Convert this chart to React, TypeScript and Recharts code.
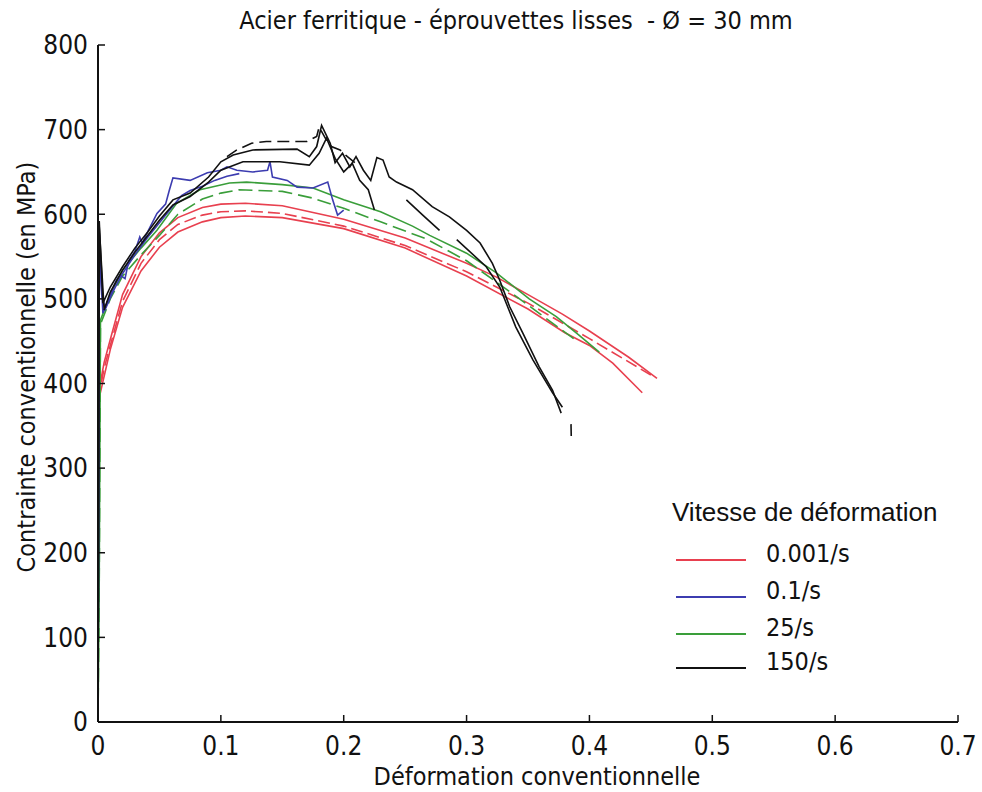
import { LineChart, Line, XAxis, YAxis, Label } from "recharts";

type Pt = [number, number | null];

// strain (-) vs engineering stress (MPa)
const xTicks = [0, 0.1, 0.2, 0.3, 0.4, 0.5, 0.6, 0.7];
const yTicks = [0, 100, 200, 300, 400, 500, 600, 700, 800];

const red1: Pt[] = [
  [0, 0], [0.0005, 390], [0.005, 425], [0.01, 452], [0.02, 505], [0.035, 550], [0.05, 578],
  [0.065, 596], [0.085, 608], [0.1, 612], [0.12, 613], [0.15, 610], [0.2, 594], [0.25, 572],
  [0.3, 542], [0.324, 526], [0.35, 505], [0.378, 482], [0.4, 462], [0.432, 431], [0.455, 406],
];
const red2: Pt[] = [
  [0, 0], [0.0005, 385], [0.005, 418], [0.01, 445], [0.02, 497], [0.035, 542], [0.05, 570],
  [0.065, 588], [0.085, 599], [0.1, 603], [0.12, 604], [0.15, 601], [0.2, 586], [0.25, 563],
  [0.3, 532], [0.35, 495], [0.4, 453], [0.45, 410],
];
const red3: Pt[] = [
  [0, 0], [0.0005, 380], [0.01, 440], [0.02, 490], [0.035, 533], [0.05, 561], [0.065, 579],
  [0.085, 591], [0.1, 596], [0.12, 598], [0.15, 596], [0.2, 583], [0.25, 560], [0.3, 527],
  [0.35, 488], [0.38, 460], [0.4, 445], [0.419, 424], [0.443, 389],
];

const blue1: Pt[] = [
  [0, 0], [0.001, 578], [0.002, 540], [0.004, 483], [0.008, 498], [0.012, 512], [0.015, 522],
  [0.018, 528], [0.022, 524], [0.025, 545], [0.03, 556], [0.034, 573], [0.036, 566], [0.04, 578],
  [0.048, 601], [0.055, 612], [0.058, 628], [0.061, 643], [0.075, 640], [0.089, 649], [0.1, 652],
  [0.105, 656], [0.113, 652], [0.126, 650], [0.138, 652], [0.14, 662], [0.142, 644], [0.154, 640],
  [0.162, 632], [0.175, 631], [0.187, 638], [0.191, 617], [0.195, 599], [0.2, 605],
];
const blue2: Pt[] = [
  [0, 0], [0.001, 560], [0.003, 505], [0.006, 488], [0.012, 508], [0.02, 530], [0.03, 552],
  [0.04, 572], [0.05, 590], [0.06, 608], [0.068, 622], [0.075, 628], [0.085, 633], [0.095, 640],
  [0.105, 645], [0.115, 648],
];

const green1: Pt[] = [
  [0, 0], [0.001, 170], [0.002, 475], [0.01, 505], [0.02, 534], [0.035, 560], [0.048, 581],
  [0.064, 613], [0.083, 629], [0.107, 637], [0.121, 638], [0.15, 635], [0.175, 631], [0.2, 617],
  [0.23, 603], [0.256, 586], [0.27, 575], [0.3, 554], [0.324, 531], [0.351, 500], [0.373, 479],
  [0.39, 459], [0.408, 437],
];
const green2: Pt[] = [
  [0, 0], [0.001, 165], [0.002, 470], [0.01, 500], [0.02, 527], [0.035, 552], [0.05, 575],
  [0.065, 600], [0.085, 618], [0.1, 625], [0.115, 629], [0.15, 627], [0.175, 619], [0.2, 607],
  [0.23, 591], [0.267, 571], [0.3, 545], [0.33, 514], [0.36, 482], [0.389, 451],
];

const black1: Pt[] = [
  [0, 0], [0.001, 592], [0.004, 495], [0.01, 514], [0.02, 538], [0.03, 560], [0.04, 578],
  [0.05, 598], [0.061, 617], [0.075, 625], [0.09, 644], [0.1, 662], [0.11, 670], [0.126, 676],
  [0.162, 677], [0.172, 668], [0.178, 680], [0.182, 705], [0.189, 684], [0.193, 661], [0.199, 672],
  [0.205, 656], [0.21, 668], [0.216, 652], [0.222, 640], [0.227, 667], [0.232, 664], [0.237, 644],
  [0.243, 638], [0.256, 629], [0.272, 609], [0.286, 597], [0.3, 581], [0.311, 566], [0.321, 542],
  [0.327, 522], [0.335, 491], [0.346, 459], [0.359, 420], [0.37, 392], [0.377, 365],
];
const black2: Pt[] = [
  [0, 0], [0.001, 585], [0.005, 487], [0.01, 508], [0.02, 534], [0.03, 555], [0.04, 574],
  [0.05, 593], [0.061, 611], [0.075, 621], [0.09, 638], [0.1, 652], [0.118, 662], [0.148, 662],
  [0.172, 658], [0.18, 672], [0.186, 690], [0.193, 666], [0.2, 650], [0.207, 660], [0.213, 640],
  [0.22, 629], [0.225, 605], [0.226, null], [0.251, 617], [0.265, 598], [0.278, 581], [0.285, null],
  [0.292, 570], [0.316, 538], [0.327, 514], [0.34, 467], [0.354, 428], [0.37, 389], [0.378, 372],
  [0.38, null], [0.385, 352], [0.3852, 338],
];
const black3: Pt[] = [
  [0.105, 668], [0.113, 676], [0.125, 684], [0.137, 686], [0.17, 686], [0.178, 692], [0.18, 703],
  [0.185, 690], [0.19, 680], [0.197, 676], [0.203, 668], [0.21, 660],
];

const legendItems = [
  { label: "0.001/s", color: "#e8404f" },
  { label: "0.1/s", color: "#3c3cb0" },
  { label: "25/s", color: "#3a9e3a" },
  { label: "150/s", color: "#111111" },
];

const series = [
  { key: "r1", pts: red1, color: legendItems[0].color, dash: undefined },
  { key: "r2", pts: red2, color: legendItems[0].color, dash: "12 5" },
  { key: "r3", pts: red3, color: legendItems[0].color, dash: undefined },
  { key: "g1", pts: green1, color: legendItems[2].color, dash: undefined },
  { key: "g2", pts: green2, color: legendItems[2].color, dash: "14 6" },
  { key: "b1", pts: blue1, color: legendItems[1].color, dash: undefined },
  { key: "b2", pts: blue2, color: legendItems[1].color, dash: undefined },
  { key: "k1", pts: black1, color: legendItems[3].color, dash: undefined },
  { key: "k2", pts: black2, color: legendItems[3].color, dash: undefined },
  { key: "k3", pts: black3, color: legendItems[3].color, dash: "12 6" },
];

const NARROW = "'Liberation Sans Narrow', 'DejaVu Sans Condensed', Arial, sans-serif";
const SANS = "'Liberation Sans', Arial, sans-serif";
const INK = "#111";

const toRows = (pts: Pt[]) => pts.map(([x, y]) => ({ x, y }));

const XTick = ({ x, y, payload }: any) => (
  <g>
    <line x1={x} y1={y} x2={x} y2={y - 7} stroke={INK} strokeWidth={1.5} />
    <text x={x} y={y + 33} textAnchor="middle" fontSize={26} fill={INK} fontFamily={NARROW}>
      {String(payload.value)}
    </text>
  </g>
);

const YTick = ({ x, y, payload }: any) => (
  <g>
    <line x1={x} y1={y} x2={x + 7} y2={y} stroke={INK} strokeWidth={1.5} />
    <text x={x - 10} y={y} dy="0.36em" textAnchor="end" fontSize={26} fill={INK} fontFamily={NARROW}>
      {String(payload.value)}
    </text>
  </g>
);

function LegendBox() {
  return (
    <svg width={310} height={200} style={{ position: "absolute", left: 660, top: 490 }}>
      <text x={12} y={22} dy="0.36em" fontSize={26} fill={INK} fontFamily={SANS}>
        Vitesse de déformation
      </text>
      {legendItems.map((item, i) => {
        const cy = [70, 107, 144, 178][i];
        return (
          <g key={item.label}>
            <line x1={16} x2={86} y1={cy} y2={cy} stroke={item.color} strokeWidth={2} />
            <text x={106} y={cy - 7} dy="0.36em" fontSize={25} fill={INK} fontFamily={NARROW}>
              {item.label}
            </text>
          </g>
        );
      })}
    </svg>
  );
}

export default function App() {
  return (
    <div style={{ position: "absolute", left: 0, top: 0, width: 982, height: 792, background: "#fff" }}>
      <div
        style={{
          position: "absolute",
          left: 0,
          width: 1032,
          top: 6,
          textAlign: "center",
          fontFamily: NARROW,
          fontSize: 25,
          color: INK,
          whiteSpace: "pre",
        }}
      >
        {"Acier ferritique - éprouvettes lisses  - Ø = 30 mm"}
      </div>
      <LineChart width={982} height={792} margin={{ top: 45, right: 24, bottom: 20, left: 38 }}>
        <XAxis
          dataKey="x"
          type="number"
          domain={[0, 0.7]}
          ticks={xTicks}
          allowDataOverflow
          axisLine={{ stroke: INK, strokeWidth: 2 }}
          tickLine={false}
          tickSize={0}
          tickMargin={0}
          tick={<XTick />}
          height={50}
        >
          <Label
            content={() => (
              <text x={537} y={776} dy="0.36em" textAnchor="middle" fontSize={25} fill={INK} fontFamily={NARROW}>
                Déformation conventionnelle
              </text>
            )}
          />
        </XAxis>
        <YAxis
          type="number"
          domain={[0, 800]}
          ticks={yTicks}
          allowDataOverflow
          axisLine={{ stroke: INK, strokeWidth: 2 }}
          tickLine={false}
          tickSize={0}
          tickMargin={0}
          tick={<YTick />}
          width={60}
        >
          <Label
            content={() => (
              <text
                x={26}
                y={367}
                dy="0.36em"
                textAnchor="middle"
                fontSize={25}
                fill={INK}
                fontFamily={NARROW}
                transform="rotate(-90 26 367)"
              >
                Contrainte conventionnelle (en MPa)
              </text>
            )}
          />
        </YAxis>
        {series.map((s) => (
          <Line
            key={s.key}
            data={toRows(s.pts)}
            dataKey="y"
            type="linear"
            stroke={s.color}
            strokeWidth={1.6}
            strokeDasharray={s.dash}
            dot={false}
            activeDot={false}
            isAnimationActive={false}
          />
        ))}
      </LineChart>
      <LegendBox />
    </div>
  );
}
